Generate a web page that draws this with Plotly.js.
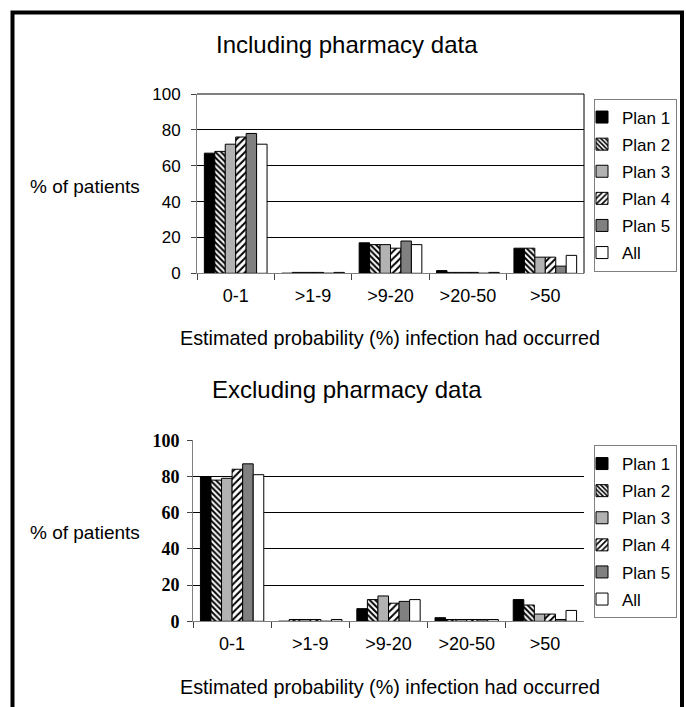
<!DOCTYPE html>
<html><head><meta charset="utf-8">
<script src="https://cdn.plot.ly/plotly-3.0.1.min.js"></script>
<style>html,body{margin:0;padding:0;background:#fff;overflow:hidden;} #chart{width:686px;height:707px;}</style>
</head><body><div id="chart"></div>
<script>
// ---- data ----
const categories = ['0-1', '>1-9', '>9-20', '>20-50', '>50'];
const seriesNames = ['Plan 1', 'Plan 2', 'Plan 3', 'Plan 4', 'Plan 5', 'All'];

// Including pharmacy data (% of patients)
const inclPlan1 = [67, 0, 17, 1.5, 14];
const inclPlan2 = [68, 0.5, 16, 0.5, 14];
const inclPlan3 = [72, 0.5, 16, 0.5, 9];
const inclPlan4 = [76, 0.5, 14, 0.5, 9];
const inclPlan5 = [78, 0, 18, 0, 4];
const inclAll   = [72, 0.5, 16, 0.5, 10];

// Excluding pharmacy data (% of patients)
const exclPlan1 = [80, 0, 7, 2, 12];
const exclPlan2 = [78, 1, 12, 1, 9];
const exclPlan3 = [79, 1, 14, 1, 4];
const exclPlan4 = [84, 1, 10, 1, 4];
const exclPlan5 = [87, 0, 11, 1, 1];
const exclAll   = [81, 1, 12, 1, 6];

const yTickVals = [0, 20, 40, 60, 80, 100];

const titleTop = 'Including pharmacy data';
const titleBottom = 'Excluding pharmacy data';
const yLabel = '% of patients';
const xLabel = 'Estimated probability (%) infection had occurred';

// ---- styles ----
const W = 686, H = 707;
const px = v => v / W;
const py = v => 1 - v / H;
const ARIAL = 'Arial, "Liberation Sans", Helvetica, sans-serif';
const TIMES = '"Times New Roman", "Liberation Serif", serif';

const styles = [
  {color: '#000000'},
  {color: '#ffffff', pattern: {shape: '\\', fgcolor: '#000000', bgcolor: '#ffffff', size: 4, solidity: 0.5}},
  {color: '#b2b2b2'},
  {color: '#ffffff', pattern: {shape: '/', fgcolor: '#000000', bgcolor: '#ffffff', size: 5, solidity: 0.4}},
  {color: '#808080'},
  {color: '#ffffff'}
];

const inclSeries = [inclPlan1, inclPlan2, inclPlan3, inclPlan4, inclPlan5, inclAll];
const exclSeries = [exclPlan1, exclPlan2, exclPlan3, exclPlan4, exclPlan5, exclAll];

function makeTrace(values, i, xa, ya, legendId, grp) {
  const marker = {color: styles[i].color, line: {color: '#000000', width: 1}};
  if (styles[i].pattern) marker.pattern = styles[i].pattern;
  return {
    type: 'bar', x: categories, y: values, name: seriesNames[i],
    xaxis: xa, yaxis: ya, legend: legendId, legendgroup: grp + i,
    marker: marker, hoverinfo: 'x+y+name'
  };
}

const traces = [];
inclSeries.forEach((s, i) => traces.push(makeTrace(s, i, 'x', 'y', 'legend', 'a')));
exclSeries.forEach((s, i) => traces.push(makeTrace(s, i, 'x2', 'y2', 'legend2', 'b')));

const xCommon = {
  type: 'category', range: [-0.5, 4.5], tickson: 'boundaries', ticks: 'outside', ticklen: 6,
  tickcolor: '#444', showline: true, linecolor: '#808080', linewidth: 1, showgrid: false,
  tickfont: {family: ARIAL, size: 18, color: '#000'}, ticklabelstandoff: 6, fixedrange: true
};
const yCommon = {
  range: [0, 100], tickvals: yTickVals, ticks: 'outside', ticklen: 5, tickcolor: '#444',
  showline: true, linecolor: '#808080', linewidth: 1, showgrid: true, gridcolor: '#000000',
  gridwidth: 1, zeroline: false, fixedrange: true
};

const legendCommon = {
  xanchor: 'left', yanchor: 'top', bgcolor: '#ffffff', bordercolor: '#808080', borderwidth: 1,
  font: {family: ARIAL, size: 17, color: '#000'}, traceorder: 'grouped', tracegroupgap: 2,
  indentation: -13, itemwidth: 30,
  itemclick: false, itemdoubleclick: false
};

const layout = {
  width: W, height: H, margin: {l: 0, r: 0, t: 0, b: 0},
  paper_bgcolor: '#ffffff', plot_bgcolor: '#ffffff',
  barmode: 'group', bargap: 0.19, bargroupgap: 0,
  showlegend: true,
  xaxis: Object.assign({}, xCommon, {domain: [px(197), px(584)], anchor: 'y'}),
  yaxis: Object.assign({}, yCommon, {domain: [py(273.3), py(94)], anchor: 'x',
    ticklabelstandoff: 7, tickfont: {family: ARIAL, size: 17, color: '#000'}}),
  xaxis2: Object.assign({}, xCommon, {domain: [px(193), px(584)], anchor: 'y2'}),
  yaxis2: Object.assign({}, yCommon, {domain: [py(621.3), py(440.3)], anchor: 'x2',
    ticklabelstandoff: 4, tickfont: {family: TIMES, size: 18, color: '#000', weight: 'bold'}}),
  legend: Object.assign({}, legendCommon, {x: px(594), y: py(98.5)}),
  legend2: Object.assign({}, legendCommon, {x: px(594), y: py(445)}),
  shapes: [
    {type: 'rect', xref: 'paper', yref: 'paper', x0: px(12.5), x1: px(682), y0: -0.05, y1: py(12.5),
     line: {color: '#000', width: 4}, fillcolor: 'rgba(0,0,0,0)'},
    {type: 'line', xref: 'x domain', yref: 'y domain', x0: 0, x1: 1, y0: 1, y1: 1, line: {color: '#000', width: 1}},
    {type: 'line', xref: 'x domain', yref: 'y domain', x0: 1, x1: 1, y0: 0, y1: 1, line: {color: '#000', width: 1}}
  ],
  annotations: [
    {text: titleTop, xref: 'paper', yref: 'paper', x: px(347), y: py(44), showarrow: false,
     xanchor: 'center', yanchor: 'middle', font: {family: ARIAL, size: 24, color: '#000'}},
    {text: titleBottom, xref: 'paper', yref: 'paper', x: px(347), y: py(389), showarrow: false,
     xanchor: 'center', yanchor: 'middle', font: {family: ARIAL, size: 24, color: '#000'}},
    {text: yLabel, xref: 'paper', yref: 'paper', x: px(28), y: py(186), showarrow: false,
     xanchor: 'left', yanchor: 'middle', font: {family: ARIAL, size: 19, color: '#000'}},
    {text: yLabel, xref: 'paper', yref: 'paper', x: px(28), y: py(532), showarrow: false,
     xanchor: 'left', yanchor: 'middle', font: {family: ARIAL, size: 19, color: '#000'}},
    {text: xLabel, xref: 'paper', yref: 'paper', x: px(390), y: py(338), showarrow: false,
     xanchor: 'center', yanchor: 'middle', font: {family: ARIAL, size: 19.8, color: '#000'}},
    {text: xLabel, xref: 'paper', yref: 'paper', x: px(390), y: py(687), showarrow: false,
     xanchor: 'center', yanchor: 'middle', font: {family: ARIAL, size: 19.8, color: '#000'}}
  ]
};

Plotly.newPlot('chart', traces, layout, {displayModeBar: false, staticPlot: false, responsive: false});
</script>
</body></html>
